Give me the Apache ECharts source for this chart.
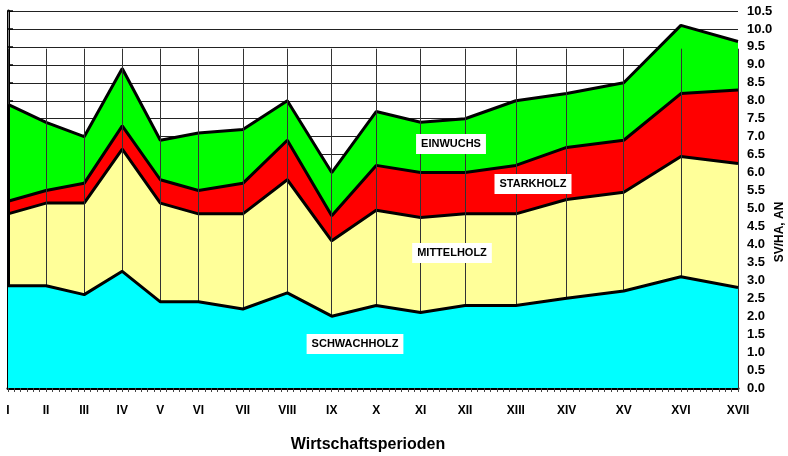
<!DOCTYPE html>
<html>
<head>
<meta charset="utf-8">
<script src="https://cdn.jsdelivr.net/npm/echarts@6/dist/echarts.min.js"></script>
<style>
html,body{margin:0;padding:0;background:#fff;}
#container{width:788px;height:456px;}
</style>
</head>
<body>
<div id="container"></div>
<script>
// periods and where they sit on the time axis (years from period I)
const periods = ['I','II','III','IV','V','VI','VII','VIII','IX','X','XI','XII','XIII','XIV','XV','XVI','XVII'];
const periodPos = [0,6,12,18,24,30,37,44,51,58,65,72,80,88,97,106,115];

// layer values, SV/HA per year (stacked bottom to top)
const schwachholz = [2.85,2.85,2.6,3.25,2.4,2.4,2.2,2.65,2.0,2.3,2.1,2.3,2.3,2.5,2.7,3.1,2.8];
const mittelholz = [2.0,2.3,2.55,3.4,2.75,2.45,2.65,3.15,2.1,2.65,2.65,2.55,2.55,2.75,2.75,3.35,3.45];
const starkholz = [0.35,0.35,0.55,0.65,0.65,0.65,0.85,1.1,0.7,1.25,1.25,1.15,1.35,1.45,1.45,1.75,2.05];
const einwuchs = [2.7,1.9,1.3,1.6,1.1,1.6,1.5,1.1,1.2,1.5,1.4,1.5,1.8,1.5,1.6,1.9,1.35];

const yTicks = {min:0, max:10.5, step:0.5};

const FONT = '"Liberation Sans", Arial, sans-serif';

// running totals, so each layer is drawn from 0 up to its own top
const layers = [schwachholz, mittelholz, starkholz, einwuchs];
const tops = [];
layers.forEach(function (vals, k) {
    tops.push(vals.map(function (v, i) { return (k > 0 ? tops[k - 1][i] : 0) + v; }));
});

const pairs = function (vals) {
    return vals.map(function (v, i) { return [periodPos[i], +v.toFixed(3)]; });
};

const areaSeries = function (name, vals, color, z) {
    return {
        name: name,
        type: 'line',
        data: pairs(vals),
        symbol: 'none',
        lineStyle: {color: '#000', width: 3},
        areaStyle: {color: color, opacity: 1, origin: 'start'},
        z: z
    };
};

// vertical period lines, drawn over the areas
const dropLines = periodPos.map(function (p) {
    return [{coord: [p, 9.45]}, {coord: [p, 0]}];
});

const boxLabel = function (text, x, y) {
    return {type: 'text', x: x, y: y, z: 10,
        style: {text: text, font: 'bold 11px ' + FONT, fill: '#000', align: 'center', verticalAlign: 'middle',
            backgroundColor: '#fff', padding: [5, 5, 4, 5]}};
};

var dom = document.getElementById('container');
var myChart = echarts.init(dom);
var option = {
    animation: false,
    backgroundColor: '#fff',
    grid: {left: 8, right: 50, top: 11, bottom: 68, containLabel: false, outerBoundsMode: 'none'},
    xAxis: {
        type: 'value',
        min: periodPos[0],
        max: periodPos[periodPos.length - 1],
        interval: 1,
        axisLine: {show: true, onZero: false, lineStyle: {color: '#000', width: 3}},
        axisTick: {show: true, length: 4, lineStyle: {color: '#444', width: 1}},
        axisLabel: {
            margin: 17,
            fontFamily: FONT, fontWeight: 'bold', fontSize: 12, color: '#000',
            formatter: function (v) {
                var i = periodPos.indexOf(v);
                return i >= 0 ? periods[i] : '';
            }
        },
        splitLine: {show: false}
    },
    yAxis: [{
        type: 'value',
        position: 'right',
        min: yTicks.min,
        max: yTicks.max,
        interval: yTicks.step,
        axisLine: {show: true, lineStyle: {color: '#000', width: 3}},
        axisTick: {show: true, length: 5, lineStyle: {color: '#000', width: 1.5}},
        axisLabel: {
            margin: 9,
            fontFamily: FONT, fontWeight: 'bold', fontSize: 13, color: '#000',
            formatter: function (v) { return v.toFixed(1); }
        },
        splitLine: {show: true, lineStyle: {color: '#222', width: 1}}
    }, {
        type: 'value',
        position: 'left',
        min: yTicks.min,
        max: yTicks.max,
        interval: yTicks.step,
        axisLine: {show: true, lineStyle: {color: '#888', width: 1}},
        axisTick: {show: false},
        axisLabel: {show: false},
        splitLine: {show: false}
    }],
    series: [
        areaSeries('EINWUCHS', tops[3], '#00ff00', 2),
        areaSeries('STARKHOLZ', tops[2], '#ff0000', 3),
        areaSeries('MITTELHOLZ', tops[1], '#ffff99', 4),
        areaSeries('SCHWACHHOLZ', tops[0], '#00ffff', 5),
        {
            type: 'line',
            data: [[periodPos[0], 0]],
            symbol: 'none',
            lineStyle: {opacity: 0},
            z: 6,
            silent: true,
            markLine: {
                silent: true,
                symbol: 'none',
                label: {show: false},
                lineStyle: {color: '#333', width: 1, type: 'solid'},
                data: dropLines.concat([[
                    {coord: [periodPos[0], 0], lineStyle: {color: '#000', width: 3}},
                    {coord: [periodPos[0], tops[3][0]]}
                ]])
            }
        }
    ],
    graphic: [
        boxLabel('EINWUCHS', 451, 144),
        boxLabel('STARKHOLZ', 533, 184),
        boxLabel('MITTELHOLZ', 452, 253),
        boxLabel('SCHWACHHOLZ', 355, 344),
        {type: 'text', x: 780, y: 232, rotation: Math.PI / 2, z: 10,
            style: {text: 'SV/HA, AN', font: 'bold 12px ' + FONT, fill: '#000', align: 'center', verticalAlign: 'middle'}},
        {type: 'text', x: 368, y: 445, z: 10,
            style: {text: 'Wirtschaftsperioden', font: 'bold 16px ' + FONT, fill: '#000', align: 'center', verticalAlign: 'middle'}}
    ]
};
myChart.setOption(option);
</script>
</body>
</html>
